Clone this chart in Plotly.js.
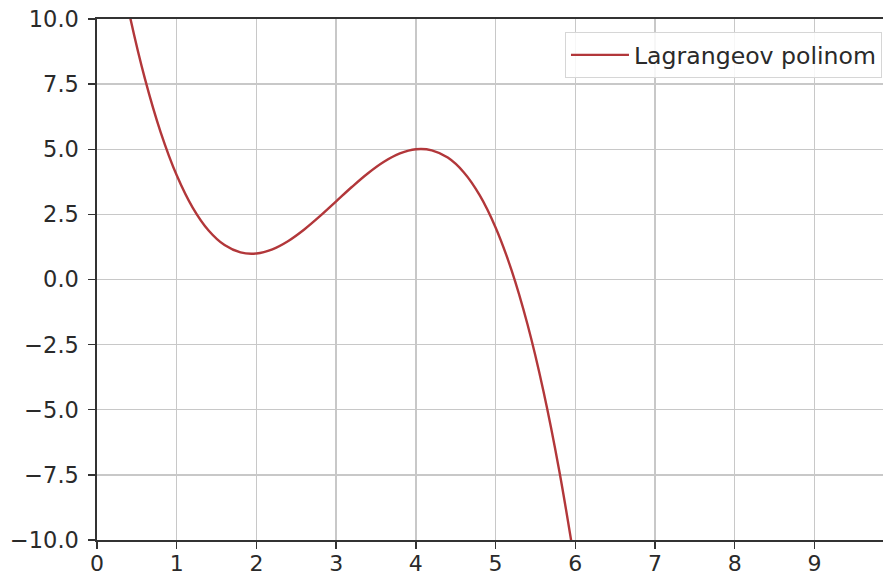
<!DOCTYPE html>
<html>
<head>
<meta charset="utf-8">
<script src="https://cdn.plot.ly/plotly-3.0.1.min.js"></script>
<style>html,body{margin:0;padding:0;background:#fff;}#chart{width:883px;height:576px;}</style>
</head>
<body>
<div id="chart"></div>
<script>
// Values (curve samples)
const xValues = [0.2, 0.4, 0.6, 0.8, 1.0, 1.2, 1.4, 1.6, 1.8, 2.0, 2.2, 2.4, 2.6, 2.8, 3.0,
                 3.2, 3.4, 3.6, 3.8, 4.0, 4.2, 4.4, 4.6, 4.8, 5.0, 5.2, 5.4, 5.6, 5.8, 6.0];
const yValues = [13.36, 10.28, 7.72, 5.64, 4.0, 2.76, 1.88, 1.32, 1.04, 1.0, 1.16, 1.48, 1.92, 2.44, 3.0,
                 3.56, 4.08, 4.52, 4.84, 5.0, 4.96, 4.68, 4.12, 3.24, 2.0, 0.36, -1.72, -4.28, -7.36, -11.0];
const seriesName = 'Lagrangeov polinom';
const xTicks = [0, 1, 2, 3, 4, 5, 6, 7, 8, 9];
const yTicks = [-10, -7.5, -5, -2.5, 0, 2.5, 5, 7.5, 10];

const trace = {
  x: xValues, y: yValues, name: seriesName, type: 'scatter', mode: 'lines',
  line: {color: '#b2373a', width: 2.4, shape: 'spline', smoothing: 1},
  showlegend: true
};

const fontFam = 'DejaVu Sans, sans-serif';
const textColor = '#2a2a2a';
const layout = {
  width: 883, height: 576,
  margin: {l: 97, r: 0, t: 19, b: 36},
  paper_bgcolor: '#fff', plot_bgcolor: '#fff',
  font: {family: fontFam, size: 22.5, color: textColor},
  showlegend: true,
  legend: {
    x: 0.9987, y: 0.975, xanchor: 'right', yanchor: 'top',
    bgcolor: 'rgba(255,255,255,0.85)', bordercolor: '#d6d6d6', borderwidth: 1,
    itemwidth: 58,
    font: {family: fontFam, size: 23.6, color: textColor}
  },
  xaxis: {
    range: [0, 9.86], tickvals: xTicks, ticktext: xTicks.map(String),
    showgrid: true, gridcolor: '#c8c8c8', gridwidth: 1.4, zeroline: false,
    showline: true, linecolor: '#333', linewidth: 1.6, mirror: true,
    ticks: 'outside', ticklen: 7, tickwidth: 1.4, tickcolor: '#333',
    ticklabelstandoff: -4,
    tickfont: {family: fontFam, size: 22, color: textColor}
  },
  yaxis: {
    range: [-10, 10], tickvals: yTicks, tickformat: '.1f',
    showgrid: true, gridcolor: '#c8c8c8', gridwidth: 1.4, zeroline: false,
    showline: true, linecolor: '#333', linewidth: 1.6,
    ticks: 'outside', ticklen: 7, tickwidth: 1.4, tickcolor: '#333',
    ticklabelstandoff: 5,
    tickfont: {family: fontFam, size: 22.5, color: textColor}
  }
};

Plotly.newPlot('chart', [trace], layout, {displayModeBar: false, staticPlot: true});
</script>
</body>
</html>
